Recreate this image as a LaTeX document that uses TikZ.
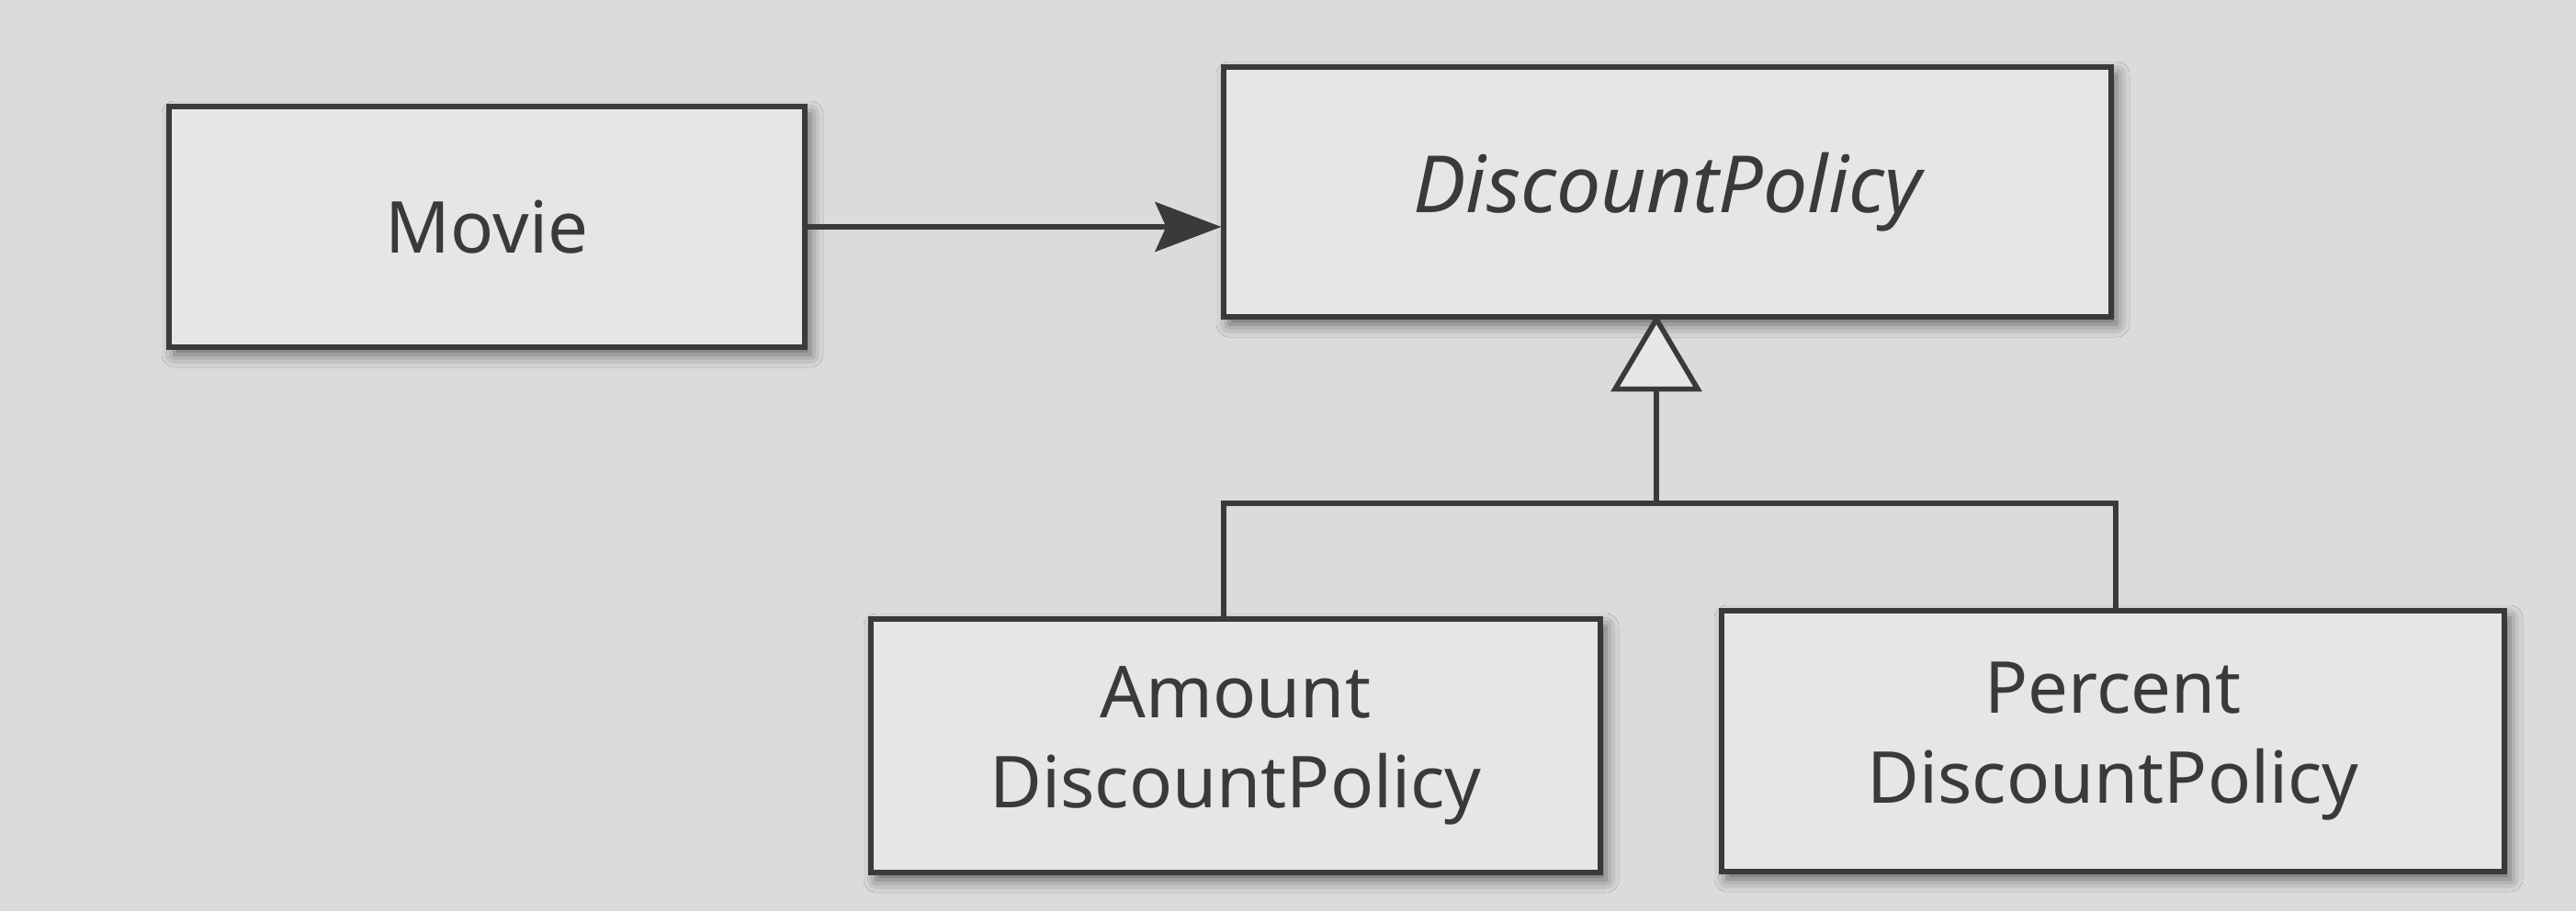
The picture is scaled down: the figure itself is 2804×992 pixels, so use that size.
\documentclass[tikz,border=0pt]{standalone}
\usepackage{fontspec}
\setmainfont{Noto Sans}
\usetikzlibrary{arrows.meta,shadows.blur,calc}
\definecolor{bgc}{HTML}{DCDBD9}
\definecolor{boxc}{HTML}{E7E6E4}
\definecolor{inkc}{HTML}{3A3A3A}
\tikzset{
  cls/.style={draw=inkc, line width=2.6pt, fill=boxc, text=inkc, font=\fontsize{39}{49}\selectfont,
    align=center, inner sep=0pt,
    blur shadow={shadow xshift=3pt, shadow yshift=-4pt, shadow blur radius=7pt, shadow opacity=55}},
  conn/.style={draw=inkc, line width=2.8pt},
}
\begin{document}
\begin{tikzpicture}[x=0.5pt,y=-0.5pt]
\fill[bgc] (0,0) rectangle (2804,992);
\useasboundingbox (0,0) rectangle (2804,992);
\node[cls, minimum width=346pt, minimum height=131pt] (movie) at (530,247) {Movie};
\node[cls, minimum width=483pt, minimum height=136pt, font=\fontsize{43}{48}\selectfont\itshape] (dp) at (1815,209) {DiscountPolicy};
\node[cls, minimum width=397pt, minimum height=138pt] (amt) at (1345,812) {Amount\\DiscountPolicy};
\node[cls, minimum width=426pt, minimum height=142pt] (pct) at (2300,807) {Percent\\DiscountPolicy};
\draw[conn, -{Stealth[length=36pt,width=27pt,inset=6pt]}] (movie.east) -- (dp.west |- movie.east);
\coordinate (tip) at (dp.south -| 1803,0);
\coordinate (base) at ($(tip)+(0,76)$);
\coordinate (bar) at (1803,548);
\draw[conn, fill=boxc, line join=miter] (tip) -- ($(base)+(-45,0)$) -- ($(base)+(45,0)$) -- cycle;
\draw[conn] (base) -- (bar);
\draw[conn] (amt.north -| 1332,0) |- (bar) -| (pct.north -| 2303,0);
\end{tikzpicture}
\end{document}
